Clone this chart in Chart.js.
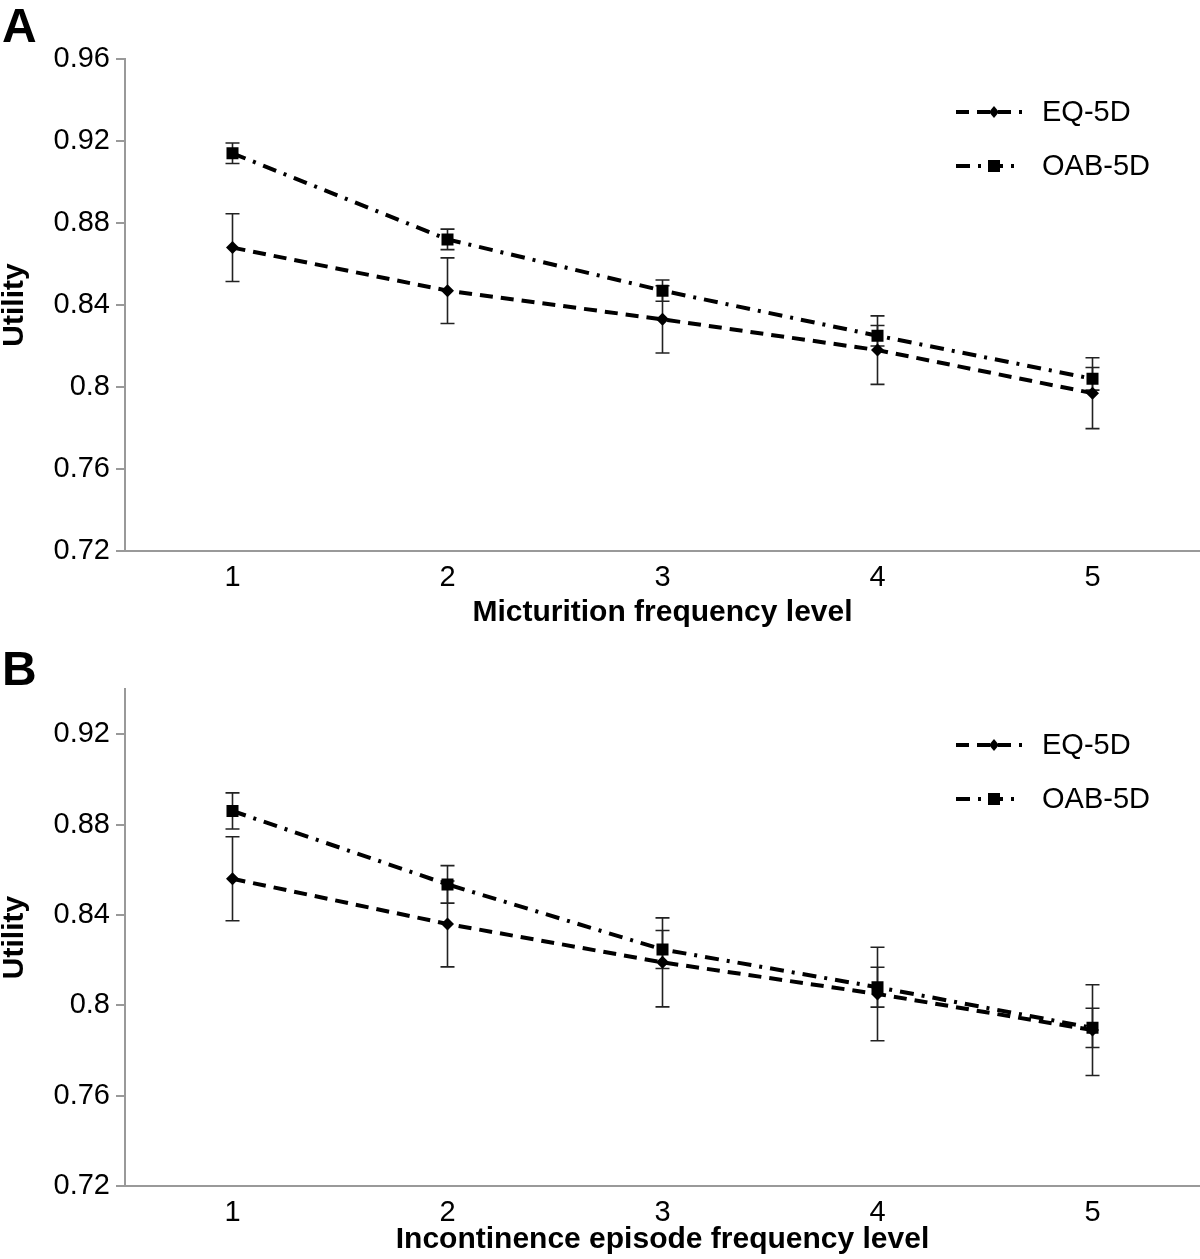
<!DOCTYPE html>
<html lang="en">
<head>
  <meta charset="UTF-8">
  <title>Utility by frequency level</title>
  <script src="https://cdn.jsdelivr.net/npm/chart.js@4.4.0/dist/chart.umd.min.js"></script>
  <style>
    body { margin: 0; background: #fff; }
    .panel { position: absolute; left: 0; }
    #panelA { top: 0; }
    #panelB { top: 640px; }
  </style>
</head>
<body>
  <canvas id="panelA" class="panel" width="1200" height="640"></canvas>
  <canvas id="panelB" class="panel" width="1200" height="619"></canvas>
  <script>
    const levels = ['1', '2', '3', '4', '5'];
    const seriesNames = ['EQ-5D', 'OAB-5D'];

    // Panel A - micturition frequency
    const eqA = [0.868, 0.847, 0.833, 0.818, 0.797];
    const eqAErr = [0.0165, 0.016, 0.0164, 0.0167, 0.0173];
    const oabA = [0.914, 0.872, 0.847, 0.825, 0.804];
    const oabAErr = [0.005, 0.005, 0.0052, 0.005, 0.0055];
    const yTicksA = [0.72, 0.76, 0.8, 0.84, 0.88, 0.92, 0.96];

    // Panel B - incontinence episode frequency
    const eqB = [0.856, 0.836, 0.819, 0.805, 0.789];
    const eqBErr = [0.0186, 0.019, 0.0197, 0.0207, 0.0201];
    const oabB = [0.886, 0.8535, 0.8247, 0.808, 0.790];
    const oabBErr = [0.008, 0.0083, 0.0084, 0.0088, 0.0087];
    const yTicksB = [0.72, 0.76, 0.8, 0.84, 0.88, 0.92];

    Chart.defaults.font.family = '"Liberation Sans", Arial, sans-serif';
    Chart.defaults.color = '#000';

    const errorBars = {
      id: 'errorBars',
      beforeDatasetsDraw(chart) {
        const ctx = chart.ctx, y = chart.scales.y;
        ctx.save();
        ctx.strokeStyle = '#222';
        ctx.lineWidth = 1.6;
        chart.data.datasets.forEach((ds, i) => {
          chart.getDatasetMeta(i).data.forEach((pt, j) => {
            const top = y.getPixelForValue(ds.data[j] + ds.errors[j]);
            const bot = y.getPixelForValue(ds.data[j] - ds.errors[j]);
            ctx.beginPath();
            ctx.moveTo(pt.x, top); ctx.lineTo(pt.x, bot);
            ctx.moveTo(pt.x - 7, top); ctx.lineTo(pt.x + 7, top);
            ctx.moveTo(pt.x - 7, bot); ctx.lineTo(pt.x + 7, bot);
            ctx.stroke();
          });
        });
        ctx.restore();
      }
    };

    const sideLegend = {
      id: 'sideLegend',
      afterDraw(chart, args, opts) {
        const { ctx, chartArea } = chart;
        ctx.save();
        ctx.font = '29px "Liberation Sans", Arial, sans-serif';
        ctx.textBaseline = 'middle';
        ctx.fillStyle = '#000';
        chart.data.datasets.forEach((ds, i) => {
          const y = chartArea.top + opts.top + i * opts.gap;
          const mx = chartArea.right - 206;
          ctx.strokeStyle = '#000';
          ctx.lineWidth = ds.borderWidth;
          ctx.setLineDash(ds.borderDash);
          ctx.beginPath();
          ctx.moveTo(chartArea.right - 244, y);
          ctx.lineTo(chartArea.right - 178, y);
          ctx.stroke();
          ctx.setLineDash([]);
          ctx.beginPath();
          if (ds.pointStyle === 'rect') {
            ctx.rect(mx - 6, y - 6, 12, 12);
          } else {
            ctx.moveTo(mx, y - 6); ctx.lineTo(mx + 5, y); ctx.lineTo(mx, y + 6); ctx.lineTo(mx - 5, y);
            ctx.closePath();
          }
          ctx.fill();
          ctx.fillText(ds.label, chartArea.right - 158, y + 1);
        });
        ctx.restore();
      }
    };

    const panelLetter = {
      id: 'panelLetter',
      afterDraw(chart, args, opts) {
        const ctx = chart.ctx;
        ctx.save();
        ctx.font = 'bold 48px "Liberation Sans", Arial, sans-serif';
        ctx.fillStyle = '#000';
        ctx.textBaseline = 'alphabetic';
        ctx.fillText(opts.text, 2, opts.baseline);
        ctx.restore();
      }
    };

    function drawPanel(id, p) {
      new Chart(document.getElementById(id), {
        type: 'line',
        data: {
          labels: levels,
          datasets: [
            {
              label: seriesNames[0], data: p.eq, errors: p.eqErr,
              borderColor: '#000', borderWidth: 4, borderDash: [13, 8],
              pointStyle: 'rectRot', pointRadius: 6.5, pointBackgroundColor: '#000',
              pointBorderColor: '#000', pointBorderWidth: 0, tension: 0
            },
            {
              label: seriesNames[1], data: p.oab, errors: p.oabErr,
              borderColor: '#000', borderWidth: 4, borderDash: [14, 8, 3, 8],
              pointStyle: 'rect', pointRadius: 8.5, pointBackgroundColor: '#000',
              pointBorderColor: '#000', pointBorderWidth: 0, tension: 0
            }
          ]
        },
        options: {
          responsive: false,
          animation: false,
          devicePixelRatio: 1,
          layout: { autoPadding: false, padding: { top: p.padTop, left: 0, right: 0, bottom: 0 } },
          plugins: {
            legend: { display: false },
            tooltip: { enabled: false },
            sideLegend: { top: p.legendTop, gap: 54 },
            panelLetter: { text: p.letter, baseline: p.letterBase }
          },
          scales: {
            x: {
              offset: true,
              grid: { display: false, drawTicks: false },
              border: { color: '#999', width: 2 },
              ticks: { font: { size: 29 }, padding: 10, maxRotation: 0 },
              title: {
                display: true, text: p.xTitle,
                font: { size: 30, weight: 'bold' },
                padding: { top: 0, bottom: p.titlePad }
              },
              afterFit(scale) { scale.height = p.xHeight; }
            },
            y: {
              min: 0.72, max: p.yMax,
              afterBuildTicks(scale) { scale.ticks = p.yTicks.map(v => ({ value: v })); },
              grid: { drawOnChartArea: false, drawTicks: true, tickLength: 9, color: '#999', lineWidth: 2 },
              border: { color: '#999', width: 2 },
              ticks: {
                font: { size: 29 }, padding: 6,
                callback: v => String(Number(v.toFixed(2)))
              },
              title: {
                display: true, text: 'Utility',
                font: { size: 30, weight: 'bold', lineHeight: 1 },
                padding: 0
              },
              afterFit(scale) { scale.width = 125; }
            }
          }
        },
        plugins: [errorBars, sideLegend, panelLetter]
      });
    }

    drawPanel('panelA', {
      eq: eqA, eqErr: eqAErr, oab: oabA, oabErr: oabAErr,
      yMax: 0.96, yTicks: yTicksA, xTitle: 'Micturition frequency level',
      letter: 'A', letterBase: 42, padTop: 59, xHeight: 89, titlePad: 9, legendTop: 53
    });
    drawPanel('panelB', {
      eq: eqB, eqErr: eqBErr, oab: oabB, oabErr: oabBErr,
      yMax: 0.94, yTicks: yTicksB, xTitle: 'Incontinence episode frequency level',
      letter: 'B', letterBase: 45, padTop: 49, xHeight: 73, titlePad: 1, legendTop: 56
    });
  </script>
</body>
</html>
